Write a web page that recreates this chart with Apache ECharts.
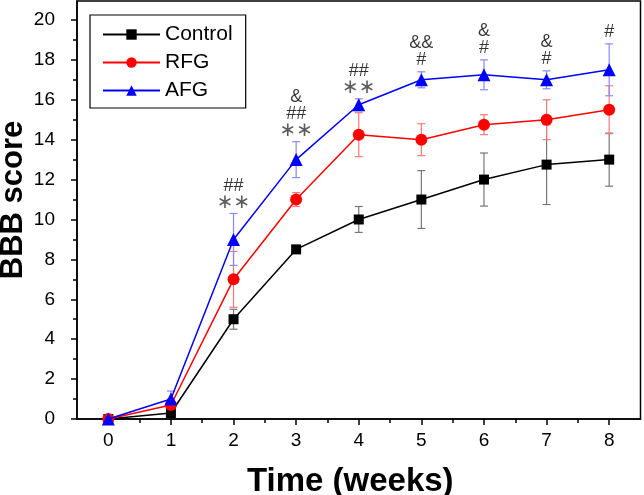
<!DOCTYPE html>
<html>
<head>
<meta charset="utf-8">
<script src="https://cdn.jsdelivr.net/npm/echarts@6/dist/echarts.min.js"></script>
<style>html,body{margin:0;padding:0;background:#fff}#c{width:644px;height:495px}</style>
</head>
<body>
<div id="c"></div>
<script>
const weeks = [0, 1, 2, 3, 4, 5, 6, 7, 8];
const controlMean = [0, 0.3, 5, 8.5, 10, 11, 12, 12.75, 13];
const controlErr = [0.1, 0.2, 0.5, 0.2, 0.65, 1.45, 1.33, 2.0, 1.33];
const rfgMean = [0, 0.7, 7, 11, 14.25, 14, 14.75, 15, 15.5];
const rfgErr = [0.1, 0.3, 1.4, 0.35, 1.1, 0.8, 0.5, 1.0, 1.2];
const afgMean = [0, 1, 9, 13, 15.75, 17, 17.25, 17, 17.5];
const afgErr = [0.1, 0.4, 1.3, 0.9, 0.3, 0.4, 0.75, 0.45, 1.3];
const annotations = ['', '', '##\n**', '&\n##\n**', '##\n**', '&&\n#', '&\n#', '&\n#', '#'];
const xTicks = [0, 1, 2, 3, 4, 5, 6, 7, 8];
const xMinorTicks = [0.5, 1.5, 2.5, 3.5, 4.5, 5.5, 6.5, 7.5];
const yTicks = [0, 2, 4, 6, 8, 10, 12, 14, 16, 18, 20];
const yMinorTicks = [1, 3, 5, 7, 9, 11, 13, 15, 17, 19];

const chart = echarts.init(document.getElementById('c'), null, {renderer: 'canvas'});

function pts(mean) { return weeks.map((w, i) => [w, mean[i]]); }
function errData(mean, err) { return weeks.map((w, i) => [w, mean[i] - err[i], mean[i] + err[i]]); }
function errRender(color) {
  return function (params, api) {
    const x = api.value(0), lo = api.value(1), hi = api.value(2);
    const a = api.coord([x, hi]), b = api.coord([x, lo]);
    const w = 4;
    const st = {stroke: color, lineWidth: 1.2};
    return {type: 'group', children: [
      {type: 'line', shape: {x1: a[0], y1: a[1], x2: b[0], y2: b[1]}, style: st},
      {type: 'line', shape: {x1: a[0] - w, y1: a[1], x2: a[0] + w, y2: a[1]}, style: st},
      {type: 'line', shape: {x1: b[0] - w, y1: b[1], x2: b[0] + w, y2: b[1]}, style: st}
    ]};
  };
}

function toRich(s) {
  return s.split('\n').map(l => l.indexOf('*') >= 0 ? '{s|' + l.replace(/\*/g, '\u2217') + '}' : '{a|' + l + '}').join('\n');
}

const font = 'Liberation Sans, Arial, sans-serif';

const option = {
  animation: false,
  backgroundColor: '#fff',
  grid: {left: 77, right: 3.5, top: 1, bottom: 76, containLabel: false, outerBoundsMode: 'none',
    show: true, borderColor: '#000', borderWidth: 1.5, backgroundColor: 'transparent'},
  legend: {
    data: ['Control', 'RFG', 'AFG'],
    orient: 'vertical', left: 90, top: 15,
    itemWidth: 57, itemHeight: 13, itemGap: 7,
    padding: [9, 13, 7, 12],
    borderColor: '#000', borderWidth: 1.2,
    textStyle: {fontFamily: font, fontSize: 21, color: '#000'}
  },
  xAxis: [{
    type: 'value', min: -0.5, max: 8.5,
    name: 'Time (weeks)', nameLocation: 'middle', nameGap: 46, nameMoveOverlap: false,
    nameTextStyle: {fontFamily: font, fontSize: 33, fontWeight: 'bold', color: '#000', padding: [0, 17, 0, 0]},
    axisLine: {onZero: false, lineStyle: {color: '#000', width: 1.5}},
    axisTick: {show: true, customValues: xTicks, length: 6, lineStyle: {color: '#000', width: 1.5}},
    axisLabel: {customValues: xTicks, margin: 12, fontFamily: font, fontSize: 19, color: '#000'},
    splitLine: {show: false}
  }, {
    type: 'value', min: -0.5, max: 8.5, position: 'bottom', offset: 0,
    axisLine: {show: false, onZero: false},
    axisTick: {show: true, customValues: xMinorTicks, length: 4, lineStyle: {color: '#000', width: 1.5}},
    axisLabel: {show: false},
    splitLine: {show: false}
  }],
  yAxis: [{
    type: 'value', min: 0, max: 20.95,
    name: 'BBB score', nameLocation: 'middle', nameGap: 48, nameRotate: 90, nameMoveOverlap: false,
    nameTextStyle: {fontFamily: font, fontSize: 31, fontWeight: 'bold', color: '#000', padding: [0, 0, 0, 20]},
    axisLine: {onZero: false, lineStyle: {color: '#000', width: 1.5}},
    axisTick: {show: true, customValues: yTicks, length: 6, lineStyle: {color: '#000', width: 1.5}},
    axisLabel: {customValues: yTicks, margin: 22, fontFamily: font, fontSize: 19, color: '#000'},
    splitLine: {show: false}
  }, {
    type: 'value', min: 0, max: 20.95, position: 'left', offset: 0,
    axisLine: {show: false, onZero: false},
    axisTick: {show: true, customValues: yMinorTicks, length: 4, lineStyle: {color: '#000', width: 1.5}},
    axisLabel: {show: false},
    splitLine: {show: false}
  }],
  series: [
    {type: 'custom', name: 'errC', renderItem: errRender('#777'), data: errData(controlMean, controlErr), encode: {x: 0, y: [1, 2]}, z: 1, silent: true},
    {type: 'custom', name: 'errR', renderItem: errRender('#f77'), data: errData(rfgMean, rfgErr), encode: {x: 0, y: [1, 2]}, z: 1, silent: true},
    {type: 'custom', name: 'errA', renderItem: errRender('#88f'), data: errData(afgMean, afgErr), encode: {x: 0, y: [1, 2]}, z: 1, silent: true},
    {type: 'line', name: 'Control', data: pts(controlMean), symbol: 'rect', symbolSize: 10, color: '#000',
      lineStyle: {color: '#000', width: 1.5}, itemStyle: {color: '#000'}, z: 3},
    {type: 'line', name: 'RFG', data: pts(rfgMean), symbol: 'circle', symbolSize: 12, color: '#f00',
      lineStyle: {color: '#f00', width: 1.5}, itemStyle: {color: '#f00'}, z: 4},
    {type: 'line', name: 'AFG', data: pts(afgMean), symbol: 'triangle', symbolSize: 13, color: '#00f',
      lineStyle: {color: '#00f', width: 1.5}, itemStyle: {color: '#00f'}, z: 5},
    {type: 'scatter', name: 'annot', data: weeks.map((w, i) => [w, afgMean[i] + afgErr[i]]), symbolSize: 0, z: 6, silent: true,
      label: {show: true, position: 'top', distance: 3,
        formatter: p => annotations[p.dataIndex] ? toRich(annotations[p.dataIndex]) : '',
        rich: {
          a: {fontFamily: font, fontSize: 18, color: '#000', lineHeight: 17, align: 'center'},
          s: {fontFamily: 'DejaVu Sans', fontSize: 20, color: '#333', lineHeight: 16, align: 'center'}
        }}}
  ]
};
chart.setOption(option);
</script>
</body>
</html>
